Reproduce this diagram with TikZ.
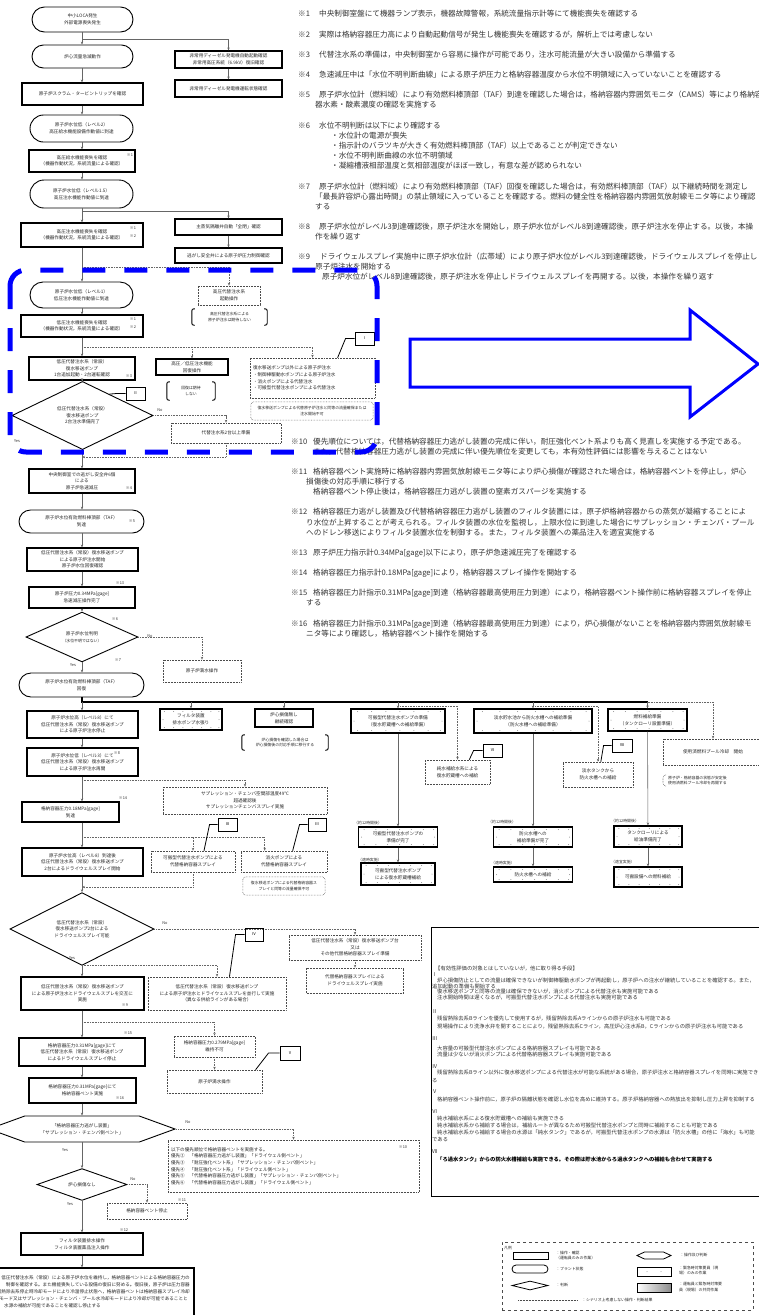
\documentclass[tikz,border=0pt]{standalone}
\usepackage{fontspec}
\setmainfont{Noto Sans CJK JP}
\usetikzlibrary{shapes.misc,shapes.geometric,shapes.symbols,arrows.meta,calc}
\newcommand\fsA{\fontsize{4.6}{6.6}\selectfont}
\newcommand\fsB{\fontsize{7.6}{10}\selectfont}
\newcommand\fsC{\fontsize{5.3}{7}\selectfont}
\newcommand\fsD{\fontsize{3.9}{5.2}\selectfont}
\newcommand\drawbrk[2]{%
 \draw[#2] ($(#1.north west)+(3,0)$) -- (#1.north west) -- (#1.south west) -- ($(#1.south west)+(3,0)$);
 \draw[#2] ($(#1.north east)+(-3,0)$) -- (#1.north east) -- (#1.south east) -- ($(#1.south east)+(-3,0)$);}
\tikzset{
 base/.style={inner sep=0pt, align=center, font=\fsA, text=black!85},
 op/.style={base, draw, line width=1.1pt, rectangle},
 st/.style={base, draw, line width=0.9pt, rounded rectangle},
 dec/.style={base, draw, line width=0.9pt, diamond},
 dbox/.style={base, draw=black!70, densely dotted, line width=0.55pt},
 em/.style={op, path picture={
   \foreach \t in {0.07,0.22,0.37,0.52,0.67,0.82,0.95}{
    \fill[black!45] ($(path picture bounding box.north west)!\t!(path picture bounding box.north east)+(0,2.5)$) circle (0.5pt);
    \fill[black!45] ($(path picture bounding box.south west)!\t!(path picture bounding box.south east)+(0,-2.5)$) circle (0.5pt);}
   \fill[black!45] ($(path picture bounding box.west)+(3,0)$) circle (0.5pt);
   \fill[black!45] ($(path picture bounding box.east)+(-3,0)$) circle (0.5pt);}},
 con/.style={draw=black!60, line width=0.6pt, -{Stealth[length=3pt,width=2.4pt]}},
 dcon/.style={con, densely dotted},
 callout/.style={draw, line width=0.9pt, inner sep=0pt, minimum height=13pt, font=\fsD},
 lead/.style={line width=0.8pt},
 brk/.style={line width=0.9pt, rounded corners=2pt},
 dbrk/.style={line width=0.55pt, densely dotted, rounded corners=3pt, draw=black!70},
 note/.style={anchor=west, inner sep=0pt, font=\fsB, text=black!80},
 info/.style={anchor=west, inner sep=0pt, font=\fsC, text=black!80},
 smk/.style={inner sep=0pt, font=\fsD, text=black!80},
 yn/.style={inner sep=0pt, font=\fsD, text=black!80},
 hexa/.style={base, draw, line width=0.9pt, signal, signal to=east and west},
}
\begin{document}
\begin{tikzpicture}[x=1pt,y=-1pt]
\useasboundingbox (0,0) rectangle (758,1315);
% ---------- notes ----------
\node[note] at (298,14) {※1}; \node[note] at (319,14) {中央制御室盤にて機器ランプ表示，機器故障警報，系統流量指示計等にて機能喪失を確認する};
\node[note] at (298,35) {※2}; \node[note] at (319,35) {実際は格納容器圧力高により自動起動信号が発生し機能喪失を確認するが，解析上では考慮しない};
\node[note] at (298,55) {※3}; \node[note] at (319,55) {代替注水系の準備は，中央制御室から容易に操作が可能であり，注水可能流量が大きい設備から準備する};
\node[note] at (298,75) {※4}; \node[note] at (319,75) {急速減圧中は「水位不明判断曲線」による原子炉圧力と格納容器温度から水位不明領域に入っていないことを確認する};
\node[note] at (298,95) {※5}; \node[note] at (319,95) {原子炉水位計（燃料域）により有効燃料棒頂部（TAF）到達を確認した場合は，格納容器内雰囲気モニタ（CAMS）等により格納容};
\node[note] at (315,105) {器水素・酸素濃度の確認を実施する};
\node[note] at (298,126) {※6}; \node[note] at (319,126) {水位不明判断は以下により確認する};
\node[note] at (331,136) {・水位計の電源が喪失};
\node[note] at (331,146) {・指示計のバラツキが大きく有効燃料棒頂部（TAF）以上であることが判定できない};
\node[note] at (331,156) {・水位不明判断曲線の水位不明領域};
\node[note] at (331,166) {・凝縮槽液相部温度と気相部温度がほぼ一致し，有意な差が認められない};
\node[note] at (298,187) {※7}; \node[note] at (319,187) {原子炉水位計（燃料域）により有効燃料棒頂部（TAF）回復を確認した場合は，有効燃料棒頂部（TAF）以下継続時間を測定し};
\node[note] at (315,197) {「最長許容炉心露出時間」の禁止領域に入っていることを確認する。燃料の健全性を格納容器内雰囲気放射線モニタ等により確認};
\node[note] at (315,207) {する};
\node[note] at (298,227) {※8}; \node[note] at (319,227) {原子炉水位がレベル3到達確認後，原子炉注水を開始し，原子炉水位がレベル8到達確認後，原子炉注水を停止する。以後，本操};
\node[note] at (315,237) {作を繰り返す};
\node[note] at (298,257) {※9}; \node[note] at (320,257) {ドライウェルスプレイ実施中に原子炉水位計（広帯域）により原子炉水位がレベル3到達確認後，ドライウェルスプレイを停止し};
\node[note] at (315,267) {原子炉注水を開始する};
\node[note] at (322,277) {原子炉水位がレベル8到達確認後，原子炉注水を停止しドライウェルスプレイを再開する。以後，本操作を繰り返す};
\node[note] at (291,442) {※10}; \node[note] at (313,442) {優先順位については，代替格納容器圧力逃がし装置の完成に伴い，耐圧強化ベント系よりも高く見直しを実施する予定である。};
\node[note] at (313,452) {また，代替格納容器圧力逃がし装置の完成に伴い優先順位を変更しても，本有効性評価には影響を与えることはない};
\node[note] at (291,472) {※11}; \node[note] at (313,472) {格納容器ベント実施時に格納容器内雰囲気放射線モニタ等により炉心損傷が確認された場合は，格納容器ベントを停止し，炉心};
\node[note] at (306,482) {損傷後の対応手順に移行する};
\node[note] at (313,492) {格納容器ベント停止後は，格納容器圧力逃がし装置の窒素ガスパージを実施する};
\node[note] at (291,512) {※12}; \node[note] at (313,512) {格納容器圧力逃がし装置及び代替格納容器圧力逃がし装置のフィルタ装置には，原子炉格納容器からの蒸気が凝縮することによ};
\node[note] at (306,523) {り水位が上昇することが考えられる。フィルタ装置の水位を監視し，上限水位に到達した場合にサプレッション・チェンバ・プール};
\node[note] at (306,533) {へのドレン移送によりフィルタ装置水位を制御する。また，フィルタ装置への薬品注入を適宜実施する};
\node[note] at (291,553) {※13}; \node[note] at (313,553) {原子炉圧力指示計0.34MPa[gage]以下により，原子炉急速減圧完了を確認する};
\node[note] at (291,573) {※14}; \node[note] at (313,573) {格納容器圧力指示計0.18MPa[gage]により，格納容器スプレイ操作を開始する};
\node[note] at (291,593) {※15}; \node[note] at (313,593) {格納容器圧力計指示0.31MPa[gage]到達（格納容器最高使用圧力到達）により，格納容器ベント操作前に格納容器スプレイを停止};
\node[note] at (306,603) {する};
\node[note] at (291,624) {※16}; \node[note] at (313,624) {格納容器圧力計指示0.31MPa[gage]到達（格納容器最高使用圧力到達）により，炉心損傷がないことを格納容器内雰囲気放射線モ};
\node[note] at (306,634) {ニタ等により確認し，格納容器ベント操作を開始する};
% ---------- main flow nodes ----------
\coordinate (mx) at (82,0);
\node[st, minimum width=101pt, minimum height=25pt] (s1) at (82.5,19.5) {中小LOCA発生\\外部電源喪失発生};
\node[st, minimum width=101pt, minimum height=23pt] (s2) at (82.5,56.5) {炉心流量急減動作};
\node[op, minimum width=107pt, minimum height=17pt] (r1) at (228.5,59.5) {非常用ディーゼル発電機自動起動確認\\非常用高圧系統（6.9kV）復旧確認};
\node[op, minimum width=107pt, minimum height=17pt] (r2) at (228.5,88.5) {非常用ディーゼル発電機運転状態確認};
\node[op, minimum width=121pt, minimum height=22pt] (b1) at (82.5,94) {原子炉スクラム・タービントリップを確認};
\node[st, minimum width=103pt, minimum height=27pt] (s3) at (81.5,128.5) {原子炉水位低（レベル2）\\高圧給水機能設備作動値に到達};
\node[op, minimum width=106pt, minimum height=22pt] (b2) at (82,161) {高圧給水機能喪失を確認\\（機器作動状況，系統流量による確認）};
\node[st, minimum width=103pt, minimum height=28pt] (s4) at (81.5,194) {原子炉水位低（レベル1.5）\\高圧注水機能作動値に到達};
\node[op, minimum width=107pt, minimum height=16pt] (r3) at (228.5,227) {主蒸気隔離弁自動「全閉」確認};
\node[op, minimum width=107pt, minimum height=15pt] (r4) at (228.5,255.5) {逃がし安全弁による原子炉圧力制御確認};
\node[op, minimum width=122pt, minimum height=24pt] (b3) at (82,235) {高圧注水機能喪失を確認\\（機器作動状況，系統流量による確認）};
\node[dbox, minimum width=62pt, minimum height=19pt] (hp) at (229,295.5) {高圧代替注水系\\起動操作};
\node[base, font=\fsD, minimum width=75pt, minimum height=16pt] (hpb) at (229.5,317) {高圧代替注水系による\\原子炉注水は期待しない};
\node[st, minimum width=103pt, minimum height=26pt] (s5) at (81.5,295) {原子炉水位低（レベル1）\\低圧注水機能作動値に到達};
\node[op, minimum width=122pt, minimum height=22pt] (b4) at (82,326) {低圧注水機能喪失を確認\\（機器作動状況，系統流量による確認）};
\node[op, minimum width=106pt, minimum height=23pt] (b5) at (82,368.5) {低圧代替注水系（常設）\\復水移送ポンプ\\1台追加起動・2台運転確認};
\node[op, minimum width=72pt, minimum height=16pt] (lp) at (192,367) {高圧／低圧注水機能\\回復操作};
\node[base, font=\fsD, minimum width=48pt, minimum height=18pt] (lpb) at (191,391) {回復は期待\\しない};
\node[dbox, align=left, text width=119pt, inner xsep=3pt, minimum height=40pt] (alt1) at (312.5,378) {復水移送ポンプ以外による原子炉注水\\・制御棒駆動水ポンプによる原子炉注水\\・消火ポンプによる代替注水\\・可搬型代替注水ポンプによる代替注水};
\node[base, font=\fsD, minimum width=122pt, minimum height=18pt] (alt1b) at (312,411) {復水移送ポンプによる代替原子炉注水と同等の流量確保または\\注水開始不可};
\node[dec, minimum width=141pt, minimum height=47pt] (d1) at (82.5,415.5) {低圧代替注水系（常設）\\復水移送ポンプ\\2台注水準備完了};
\node[dbox, minimum width=110pt, minimum height=20pt] (alt2) at (226,433) {代替注水系2台以上準備};
\node[op, minimum width=106pt, minimum height=24pt] (b6) at (82,481) {中央制御室での逃がし安全弁6個\\による\\原子炉急速減圧};
\node[st, minimum width=125pt, minimum height=23pt] (s6) at (81.5,521.5) {原子炉水位有効燃料棒頂部（TAF）\\到達};
\node[op, minimum width=111pt, minimum height=23pt] (b7) at (82.5,559.5) {低圧代替注水系（常設）復水移送ポンプ\\による原子炉注水開始\\原子炉水位回復確認};
\node[op, minimum width=106pt, minimum height=21pt] (b8) at (82,597.5) {原子炉圧力0.34MPa[gage]\\急速減圧操作完了};
\node[dec, minimum width=112pt, minimum height=40pt] (d2) at (82,637) {原子炉水位判明\\{\fsD（水位不明ではない）}};
\node[dbox, minimum width=78pt, minimum height=22pt] (fill1) at (202,671) {原子炉満水操作};
\node[st, minimum width=125pt, minimum height=24pt] (s7) at (81.5,685) {原子炉水位有効燃料棒頂部（TAF）\\回復};
\node[op, minimum width=111pt, minimum height=27pt] (b9) at (82.5,724.5) {原子炉水位高（レベル8）にて\\低圧代替注水系（常設）復水移送ポンプ\\による原子炉注水停止};
\node[em, minimum width=62pt, minimum height=21pt] (e1) at (191,719.5) {フィルタ装置\\排水ポンプ水張り};
\node[op, minimum width=58pt, minimum height=18pt] (c1) at (284,718) {炉心損傷無し\\継続確認};
\node[base, font=\fsD, minimum width=86pt, minimum height=15pt] (c1b) at (285,742.5) {炉心損傷を確認した場合は\\炉心損傷後の対応手順に移行する};
\node[em, minimum width=94pt, minimum height=24pt] (e2) at (398,721) {可搬型代替注水ポンプの準備\\（復水貯蔵槽への補給準備）};
\node[em, minimum width=118pt, minimum height=24pt] (e3) at (533,721) {淡水貯水池から防火水槽への補給準備\\（防火水槽への補給準備）};
\node[em, minimum width=79pt, minimum height=22pt] (e4) at (647.5,720) {燃料補給準備\\（タンクローリ設置準備）};
\node[dbox, minimum width=100pt, minimum height=26pt] (sfp) at (713,752) {使用済燃料プール冷却　開始};
\node[base, font=\fsD, align=left, anchor=west] (sfpb) at (668,780.5) {原子炉・格納容器の状態が安定後\\使用済燃料プール冷却を再開する};
\node[dbox, minimum width=65pt, minimum height=24pt] (pw) at (457.5,772) {純水補給水系による\\復水貯蔵槽への補給};
\node[dbox, minimum width=70pt, minimum height=25pt] (ft) at (598,774.5) {淡水タンクから\\防火水槽への補給};
\node[em, minimum width=79pt, minimum height=20pt] (e5) at (398,837) {可搬型代替注水ポンプの\\準備が完了};
\node[em, minimum width=74pt, minimum height=22pt] (e6) at (398,874) {可搬型代替注水ポンプ\\による復水貯蔵槽補給};
\node[em, minimum width=79pt, minimum height=20pt] (e7) at (533,837) {防火水槽への\\補給準備が完了};
\node[em, minimum width=79pt, minimum height=15pt] (e8) at (533,874.5) {防火水槽への補給};
\node[em, minimum width=68pt, minimum height=21pt] (e9) at (648,836.5) {タンクローリによる\\給油準備完了};
\node[em, minimum width=68pt, minimum height=20pt] (e10) at (648,877) {可搬設備への燃料補給};
\node[yn, anchor=west] (t1) at (354,823) {（約12時間後）};
\node[yn, anchor=west] (t2) at (358,860) {（適時実施）};
\node[yn, anchor=west] (t3) at (488,822) {（約12時間後）};
\node[yn, anchor=west] (t4) at (491,863) {（適時実施）};
\node[yn, anchor=west] (t5) at (611,821) {（約12時間後）};
\node[yn, anchor=west] (t6) at (611,862) {（適宜実施）};
\node[op, minimum width=111pt, minimum height=28pt] (b10) at (82.5,762) {原子炉水位低（レベル3）にて\\低圧代替注水系（常設）復水移送ポンプ\\による原子炉注水再開};
\node[dbox, minimum width=164pt, minimum height=27pt] (sup) at (245,800.5) {サプレッション・チェンバ空間部温度49℃\\超過確認後\\サプレッションチェンバスプレイ実施};
\node[op, minimum width=97pt, minimum height=20pt] (b11) at (70.5,812) {格納容器圧力0.18MPa[gage]\\到達};
\node[dbox, minimum width=84pt, minimum height=21pt] (pt1) at (193,861.5) {可搬型代替注水ポンプによる\\代替格納容器スプレイ};
\node[dbox, minimum width=86pt, minimum height=21pt] (pt2) at (284,861.5) {消火ポンプによる\\代替格納容器スプレイ};
\node[base, font=\fsD, minimum width=82pt, minimum height=18pt] (pt2b) at (284,886) {復水移送ポンプによる代替格納容器ス\\プレイと同等の流量確保不可};
\node[op, minimum width=121pt, minimum height=28pt] (b12) at (82.5,862) {原子炉水位高（レベル8）到達後\\低圧代替注水系（常設）復水移送ポンプ\\2台によるドライウェルスプレイ開始};
\node[dec, minimum width=144pt, minimum height=52pt] (d3) at (82,929) {低圧代替注水系（常設）\\復水移送ポンプ2台による\\ドライウェルスプレイ可能};
\node[dbox, minimum width=132pt, minimum height=25pt] (ds1) at (355,947.5) {低圧代替注水系（常設）復水移送ポンプ台\\又は\\その他代替格納容器スプレイ準備};
\node[dbox, minimum width=97pt, minimum height=25pt] (ds2) at (355,980.5) {代替格納容器スプレイによる\\ドライウェルスプレイ実施};
\node[dbox, minimum width=138pt, minimum height=33pt] (par) at (217,993.5) {低圧代替注水系（常設）復水移送ポンプ\\による原子炉注水とドライウェルスプレを並行して実施\\（異なる供給ラインがある場合）};
\node[op, minimum width=123pt, minimum height=33pt] (b13) at (82.5,993.5) {低圧代替注水系（常設）復水移送ポンプ\\による原子炉注水とドライウェルスプレを交互に\\実施};
\node[dbox, minimum width=81pt, minimum height=21pt] (p279) at (214.5,1046.5) {格納容器圧力0.279MPa[gage]\\維持不可};
\node[dbox, minimum width=95pt, minimum height=23pt] (fill2) at (214.5,1081.5) {原子炉満水操作};
\node[op, minimum width=126pt, minimum height=28pt] (b14) at (82,1052) {格納容器圧力0.31MPa[gage]にて\\低圧代替注水系（常設）復水移送ポンプ\\によるドライウェルスプレイ停止};
\node[op, minimum width=107pt, minimum height=25pt] (b15) at (82.5,1090.5) {格納容器圧力0.31MPa[gage]にて\\格納容器ベント実施};
\node[hexa, signal pointer angle=40, minimum width=186pt, minimum height=26pt] (hex) at (82,1129) {「格納容器圧力逃がし装置」\\「サプレッション・チェンバ側ベント」};
\node[dbox, align=left, text width=245pt, inner xsep=3pt, minimum height=52pt] (prio) at (293.5,1166) {以下の優先順位で格納容器ベントを実施する。\\優先②　「格納容器圧力逃がし装置」「ドライウェル側ベント」\\優先③　「耐圧強化ベント系」「サプレッション・チェンバ側ベント」\\優先④　「耐圧強化ベント系」「ドライウェル側ベント」\\優先⑤　「代替格納容器圧力逃がし装置」「サプレッション・チェンバ側ベント」\\優先⑥　「代替格納容器圧力逃がし装置」「ドライウェル側ベント」};
\node[dec, minimum width=90pt, minimum height=25pt] (d4) at (82,1184.5) {炉心損傷なし};
\node[dbox, minimum width=80pt, minimum height=16pt] (vs) at (147,1211) {格納容器ベント停止};
\node[op, minimum width=122pt, minimum height=22pt] (b16) at (82,1244) {フィルタ装置排水操作\\フィルタ装置薬品注入操作};
\node[op, minimum width=214pt, minimum height=60pt] (fin) at (87,1298) {};
\node[base, anchor=east] (f1) at (190,1278) {低圧代替注水系（常設）による原子炉水位を維持し，格納容器ベントによる格納容器圧力の};
\node[base, anchor=east] (f2) at (190,1285) {制御を確認する。また機能喪失している設備の復旧に努める。復旧後，原子炉は圧力容器};
\node[base, anchor=east] (f3) at (190,1292) {残留熱除去系停止時冷却モードにより冷温停止状態へ，格納容器ベントは格納容器スプレイ冷却};
\node[base, anchor=east] (f4) at (188,1299) {モード又はサプレッション・チェンバ・プール水冷却モードにより冷却が可能であることと};
\node[base, anchor=east] (f5) at (101,1306) {水源の補給が可能であることを確認し停止する};
% ---------- marks ----------
\node[smk] at (130,155) {※1};
\node[smk] at (133,228) {※1}; \node[smk] at (133,236) {※2};
\node[smk] at (133,319) {※1}; \node[smk] at (133,327) {※2};
\node[smk] at (129,376) {※3};
\node[smk] at (129,488) {※4};
\node[smk] at (132,521) {※5};
\node[smk] at (120,583) {※13};
\node[smk] at (115,619) {※6};
\node[smk] at (118,660) {※7};
\node[smk] at (117,753) {※8};
\node[smk] at (123,798) {※14};
\node[smk] at (125,1005) {※9};
\node[smk] at (128,1033) {※15};
\node[smk] at (120,1098) {※16};
\node[smk] at (403,1147) {※10};
\node[smk] at (182,1200) {※11};
\node[smk] at (124,1230) {※12};
% yes / no
\node[yn] at (160,410) {No}; \node[yn] at (17,441) {Yes};
\node[yn] at (150,636) {No}; \node[yn] at (73,665) {Yes};
\node[yn] at (165,923) {No}; \node[yn] at (72,958) {Yes};
\node[yn] at (188,1122) {No}; \node[yn] at (65,1150) {Yes};
\node[yn] at (133,1179) {No}; \node[yn] at (70,1204) {Yes};
% brackets
\drawbrk{hpb}{brk}
\drawbrk{lpb}{brk}
\drawbrk{c1b}{brk}
\draw[dbrk] (alt1b.north west) rectangle (alt1b.south east);
\draw[dbrk] (pt2b.north west) rectangle (pt2b.south east);
\draw[dbrk] ($(sfpb.north west)+(-2,-1)$) -- ($(sfpb.north west)+(-5,-1)$) -- ($(sfpb.south west)+(-5,1)$) -- ($(sfpb.south west)+(-2,1)$);
% ---------- connectors ----------
\coordinate (j1) at (82,39);
\coordinate (j2) at (82,211);
\coordinate (j3) at (82,267);
\coordinate (j4) at (82,347);
\coordinate (j5) at (82,457);
\coordinate (j7) at (82,702);
\coordinate (j8) at (400,706);
\coordinate (j9) at (535,706);
\coordinate (j10) at (82,780);
\coordinate (j11) at (82,837);
\coordinate (j12) at (82,887);
\coordinate (j13) at (82,965);
\coordinate (j14) at (82,1022);
\draw[con] (s1.south -| mx) -- (s2.north -| mx);
\draw[con] (j1) -| (r1.north);
\draw[con] (r1) -- (r2);
\draw[con] (s2.south -| mx) -- (b1.north -| mx);
\draw[con] (b1.south -| mx) -- (s3.north -| mx);
\draw[con] (s3.south -| mx) -- (b2.north -| mx);
\draw[con] (b2.south -| mx) -- (s4.north -| mx);
\draw[con] (s4.south -| mx) -- (b3.north -| mx);
\draw[con] (j2) -| (r3.north);
\draw[con] (r3) -- (r4);
\draw[con] (b3.south -| mx) -- (s5.north -| mx);
\draw[dcon] (j3) -| (hp.north);
\draw[con] (s5.south -| mx) -- (b4.north -| mx);
\draw[con] (b4.south -| mx) -- (b5.north -| mx);
\draw[dcon] (j4) -| (lp.north);
\draw[dcon] (lp.north |- j4) -| (alt1.north);
\draw[con] (b5.south -| mx) -- (d1.north -| mx);
\draw[dcon] (d1.east) -| (alt2.north);
\draw[dcon] (alt2.south) |- (j5);
\draw[con] (d1.south -| mx) -- (b6.north -| mx);
\draw[con] (b6.south -| mx) -- (s6.north -| mx);
\draw[con] (s6.south -| mx) -- (b7.north -| mx);
\draw[con] (b7.south -| mx) -- (b8.north -| mx);
\draw[con] (b8.south -| mx) -- (d2.north -| mx);
\draw[dcon] (d2.east) -| (fill1.north);
\draw[con] (d2.south -| mx) -- (s7.north -| mx);
\draw[line width=1.1pt] (s7.south -| mx) -- (j7) -- (j7 -| e4.north);
\draw[con] (j7) -- (b9.north -| mx);
\draw[con] (j7 -| e1.north) -- (e1.north);
\draw[con] (j7 -| c1.north) -- (c1.north);
\draw[con] (j7 -| e2.north) -- (e2.north);
\draw[con] (j7 -| e3.north) -- (e3.north);
\draw[con] (j7 -| e4.north) -- (e4.north);
\draw[dcon] (j7 -| e4.north) -| (sfp.north);
\draw[dcon] (j8) -| (pw.north);
\draw[dcon] (j9) -| (ft.north);
\draw[con] (e2) -- (e5); \draw[con] (e5) -- (e6);
\draw[con] (e3) -- (e7); \draw[con] (e7) -- (e8);
\draw[con] (e4) -- (e9); \draw[con] (e9) -- (e10);
\draw[con] (b9.south -| mx) -- (b10.north -| mx);
\draw[dcon] (j10) -| (sup.north);
\draw[con] (b10.south -| mx) -- (b11.north -| mx);
\draw[con] (b11.south -| mx) -- (b12.north -| mx);
\draw[dcon] (j11) -| (pt1.north);
\draw[dcon] (pt1.north |- j11) -| ($(pt2.north west)+(24,0)$);
\draw[dcon] (pt1.south) |- (j12);
\draw[con] (b12.south -| mx) -- (d3.north -| mx);
\draw[dcon] (d3.east) -| (ds1.north);
\draw[dcon] (ds1) -- (ds2);
\draw[con] (d3.south -| mx) -- (b13.north -| mx);
\draw[dcon] (j13) -| (par.north);
\draw[con] (b13.south -| mx) -- (b14.north -| mx);
\draw[dcon] (j14) -| (p279.north);
\draw[dcon] (p279) -- (fill2);
\draw[con] (b14.south -| mx) -- (b15.north -| mx);
\draw[con] (b15.south -| mx) -- (hex.north -| mx);
\draw[dcon] (hex.east) -| (prio.north);
\draw[con] (hex.south -| mx) -- (d4.north -| mx);
\draw[dcon] (d4.east) -| (vs.north);
\draw[con] (d4.south -| mx) -- (b16.north -| mx);
\draw[con] (b16.south -| mx) -- (fin.north -| mx);
% ---------- callouts ----------
\node[callout, minimum width=19pt] (cI) at (364.5,338.5) {Ⅰ};
\draw[lead] (cI.west) -- ++(-9,0) -- ($(alt1.north west)!0.70!(alt1.north east)$);
\node[callout, minimum width=19pt] (cII) at (135.5,393.5) {Ⅱ};
\draw[lead] (cII.west) -- ++(-9,0) -- ($(d1.north)!0.38!(d1.east)$);
\node[callout, minimum width=19pt] (cIIIa) at (227.5,824.5) {Ⅲ};
\draw[lead] (cIIIa.west) -- ++(-8,0) -- ($(pt1.north west)!0.63!(pt1.north east)$);
\node[callout, minimum width=18pt] (cIIIb) at (317,824.5) {Ⅲ};
\draw[lead] (cIIIb.west) -- ++(-8,0) -- ($(pt2.north west)!0.60!(pt2.north east)$);
\node[callout, minimum width=18pt] (cIV) at (254,934.5) {Ⅳ};
\draw[lead] (cIV.west) -- ++(-9,0) -- ($(par.north west)!0.59!(par.north east)$);
\node[callout, minimum width=20pt, minimum height=14pt] (cV) at (290,1053) {Ⅴ};
\draw[lead] (cV.west) -- ++(-11,0) -- ($(fill2.north west)!0.93!(fill2.north east)$);
\node[callout, minimum width=19pt] (cVI) at (492.5,750.5) {Ⅵ};
\draw[lead] (cVI.west) -- ++(-9,0) -- ($(pw.north west)!0.68!(pw.north east)$);
\node[callout, minimum width=20pt] (cVII) at (622,745.5) {Ⅶ};
\draw[lead] (cVII.west) -- ++(-8,0) -- ($(ft.north west)!0.54!(ft.north east)$);
% ---------- info box ----------
\node[draw, line width=1pt, inner sep=0pt, minimum width=340pt, minimum height=269pt] (infobox) at (601,1061.5) {};
\node[info] at (435,969) {【有効性評価の対象とはしていないが，他に取り得る手段】};
\node[info] at (432,975) {Ⅰ};
\node[info] at (437,981) {炉心損傷防止としての流量は確保できないが制御棒駆動水ポンプが再起動し，原子炉への注水が継続していることを確認する。また，};
\node[info] at (432,986) {追加起動の準備も開始する};
\node[info] at (437,992) {復水移送ポンプと同等の流量は確保できないが，消火ポンプによる代替注水も実施可能である};
\node[info] at (437,998) {注水開始時間は遅くなるが，可搬型代替注水ポンプによる代替注水も実施可能である};
\node[info] at (432,1012) {Ⅱ};
\node[info] at (437,1019) {残留熱除去系Bラインを優先して使用するが，残留熱除去系Aラインからの原子炉注水も可能である};
\node[info] at (437,1027) {現場操作により洗浄水弁を開することにより，残留熱除去系Cライン，高圧炉心注水系B，Cラインからの原子炉注水も可能である};
\node[info] at (432,1039) {Ⅲ};
\node[info] at (437,1048) {大容量の可搬型代替注水ポンプによる格納容器スプレイも可能である};
\node[info] at (437,1054) {流量は少ないが消火ポンプによる代替格納容器スプレイも実施可能である};
\node[info] at (432,1067) {Ⅳ};
\node[info] at (437,1073) {残留熱除去系Bライン以外に復水移送ポンプによる代替注水が可能な系統がある場合，原子炉注水と格納容器スプレイを同時に実施でき};
\node[info] at (432,1081) {る};
\node[info] at (432,1092) {Ⅴ};
\node[info] at (437,1100) {格納容器ベント操作前に，原子炉の隔離状態を確認し水位を高めに維持する。原子炉格納容器への熱放出を抑制し圧力上昇を抑制する};
\node[info] at (432,1112) {Ⅵ};
\node[info] at (437,1118) {純水補給水系による復水貯蔵槽への補給も実施できる};
\node[info] at (437,1126) {純水補給水系から補給する場合は，補給ルートが異なるため可搬型代替注水ポンプと同時に補給することも可能である};
\node[info] at (437,1133) {純水補給水系から補給する場合の水源は「純水タンク」であるが，可搬型代替注水ポンプの水源は「防火水槽」の他に「海水」も可能};
\node[info] at (432,1140) {である};
\node[info] at (432,1152) {Ⅶ};
\node[info, font=\fsC\bfseries, text=black] at (437,1159) {「ろ過水タンク」からの防火水槽補給も実施できる。その際は貯水池からろ過水タンクへの補給も合わせて実施する};
% ---------- legend ----------
\node[draw=black!70, dashed, line width=0.6pt, inner sep=0pt, minimum width=251pt, minimum height=68pt] (leg) at (627.5,1276) {};
\node[smk, anchor=west] (legt) at (504,1248) {凡例};
\node[op, line width=0.9pt, minimum width=35pt, minimum height=7pt] (lg1) at (530.5,1255.5) {};
\node[base, anchor=west, align=left, font=\fsD] (lt1) at (556,1255.5) {：操作・確認\\（運転員のみの作業）};
\node[st, line width=0.8pt, minimum width=36pt, minimum height=8pt] (lg2) at (530,1269) {};
\node[base, anchor=west, font=\fsD] (lt2) at (556,1269) {：プラント状態};
\node[dec, line width=0.8pt, minimum width=36pt, minimum height=9pt] (lg3) at (530,1285.5) {};
\node[base, anchor=west, font=\fsD] (lt3) at (556,1285.5) {：判断};
\node[hexa, line width=0.8pt, signal pointer angle=50, minimum width=34pt, minimum height=7pt] (lg4) at (654,1255.5) {};
\node[base, anchor=west, font=\fsD] (lt4) at (680,1255.5) {：操作及び判断};
\node[op, line width=0.9pt, minimum width=34pt, minimum height=9pt] (lg5) at (654,1271.5) {};
\fill[black!45] ($(lg5.center)+(-7,0)$) circle (0.5pt);
\fill[black!45] ($(lg5.center)+(7,0)$) circle (0.5pt);
\node[base, anchor=west, align=left, font=\fsD] (lt5) at (679,1270.5) {：緊急時対策要員（現\\場）のみの作業};
\node[op, line width=0.9pt, left color=white, right color=black!45, minimum width=34pt, minimum height=9pt] (lg6) at (654,1287.5) {};
\node[base, anchor=west, align=left, font=\fsD] (lt6) at (679,1287) {：運転員と緊急時対策要\\員（現場）の共同作業};
\coordinate (lg7a) at (518,1300); \coordinate (lg7b) at (577,1300);
\draw[densely dotted, line width=0.5pt, black!70] (lg7a) -- (lg7b);
\node[base, anchor=west, font=\fsD] (lt7) at (582,1300) {：シナリオ上考慮しない操作・判断結果};
% ---------- blue overlays ----------
\draw[blue, line width=5pt, dash pattern=on 23pt off 19pt, rounded corners=16pt] (10,270) rectangle (377,452);
\draw[blue, line width=3pt, line join=miter] (410,339) -- (690,339) -- (690,310) -- (758,364) -- (690,417) -- (690,387) -- (410,387) -- cycle;
\end{tikzpicture}
\end{document}
